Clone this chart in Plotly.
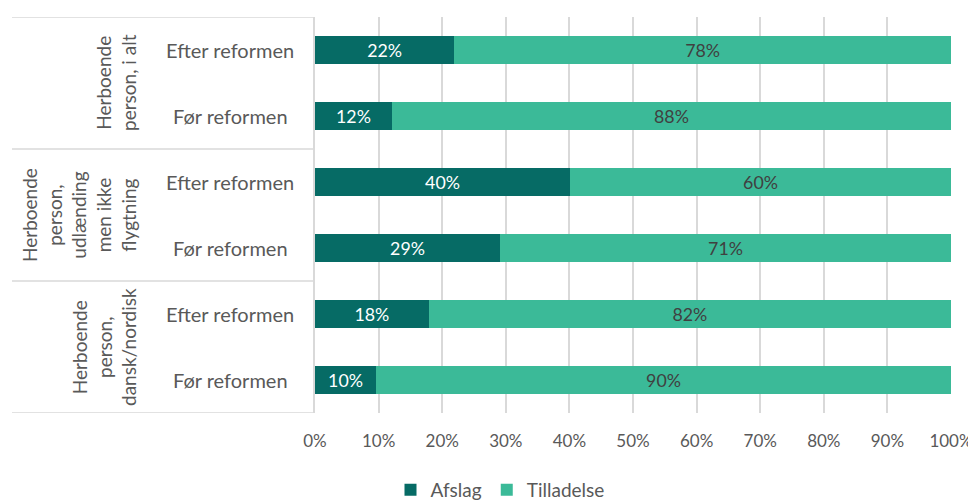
import plotly.graph_objects as go

# Data (bottom to top)
groups = ["Herboende<br>person,<br>dansk/nordisk",
          "Herboende<br>person,<br>udlænding<br>men ikke<br>flygtning",
          "Herboende<br>person, i alt"]
periods = ["Før reformen", "Efter reformen"]
afslag = [9.6, 17.9, 29.1, 40.1, 12.1, 21.9]
tilladelse = [90.4, 82.1, 70.9, 59.9, 87.9, 78.1]
afslag_labels = ["10%", "18%", "29%", "40%", "12%", "22%"]
tilladelse_labels = ["90%", "82%", "71%", "60%", "88%", "78%"]
x_ticks = [0, 10, 20, 30, 40, 50, 60, 70, 80, 90, 100]
x_ticklabels = ["0%", "10%", "20%", "30%", "40%", "50%", "60%", "70%", "80%", "90%", "100%"]

FONT = "Lato"
DARK = "#066b65"
LIGHT = "#3bba98"
GRID = "#d9d9d9"
TXT = "#595959"

rows = list(range(len(afslag)))
row_period = [periods[i % 2] for i in rows]

fig = go.Figure()
fig.add_trace(go.Bar(
    y=rows, x=afslag, orientation="h", name="Afslag",
    marker=dict(color=DARK, line=dict(width=0)),
    text=afslag_labels, textposition="inside", insidetextanchor="middle",
    textfont=dict(color="white", size=18, family=FONT), textangle=0,
    hoverinfo="x+name"))
fig.add_trace(go.Bar(
    y=rows, x=tilladelse, orientation="h", name="Tilladelse",
    marker=dict(color=LIGHT, line=dict(width=0)),
    text=tilladelse_labels, textposition="inside", insidetextanchor="middle",
    textfont=dict(color="#404040", size=18, family=FONT), textangle=0,
    hoverinfo="x+name"))

# the page body adds an 8px offset; the figure is sized to compensate
OFF = 8
W, H = 976 - OFF, 500 - OFF
L, R, T, B = 315 - OFF, 25, 17 - OFF, 87
pw = W - L - R
ph = H - T - B

def px_to_paper(px):
    # px measured in window coordinates
    return (px - 315) / pw

annotations = []
# period labels
for i in rows:
    annotations.append(dict(
        x=px_to_paper(230), xref="paper", y=i, yref="y",
        text=row_period[i], showarrow=False, xanchor="center", yanchor="middle",
        font=dict(size=20, color=TXT, family=FONT)))
# group labels
for g, name in enumerate(groups):
    annotations.append(dict(
        x=px_to_paper(142), xref="paper", y=2 * g + 0.5, yref="y",
        text=name, showarrow=False, textangle=-90, xanchor="right", yanchor="middle",
        align="center",
        font=dict(size=19, color=TXT, family=FONT)))

shapes = []
for b in [-0.5, 1.5, 3.5, 5.5]:
    shapes.append(dict(type="line", xref="paper", yref="y",
                       x0=px_to_paper(12), x1=0, y0=b, y1=b,
                       line=dict(color=GRID, width=1.5), layer="below"))

fig.update_layout(
    width=W, height=H,
    barmode="stack", bargap=0.58,
    margin=dict(l=L, r=R, t=T, b=B, autoexpand=False),
    plot_bgcolor="white", paper_bgcolor="white",
    font=dict(family=FONT, color=TXT, size=17),
    xaxis=dict(range=[0, 100], tickvals=x_ticks, ticktext=x_ticklabels,
               showgrid=True, gridcolor=GRID, gridwidth=1.5, zeroline=False,
               showline=False, ticks="", ticklabelstandoff=16,
               tickfont=dict(size=17, color=TXT, family=FONT), fixedrange=True,
               automargin=False),
    yaxis=dict(range=[-0.5, 5.5], showticklabels=False, showgrid=False,
               zeroline=False, showline=True, linecolor=GRID, linewidth=1.5,
               ticks="", fixedrange=True, automargin=False),
    legend=dict(orientation="h", x=(500 - OFF) / W, xref="container", xanchor="center",
                y=-77 / ph, yref="paper", yanchor="middle",
                font=dict(size=19, color=TXT, family=FONT),
                itemwidth=30, traceorder="normal"),
    annotations=annotations, shapes=shapes,
    showlegend=True,
)

fig.write_html("out.html")
